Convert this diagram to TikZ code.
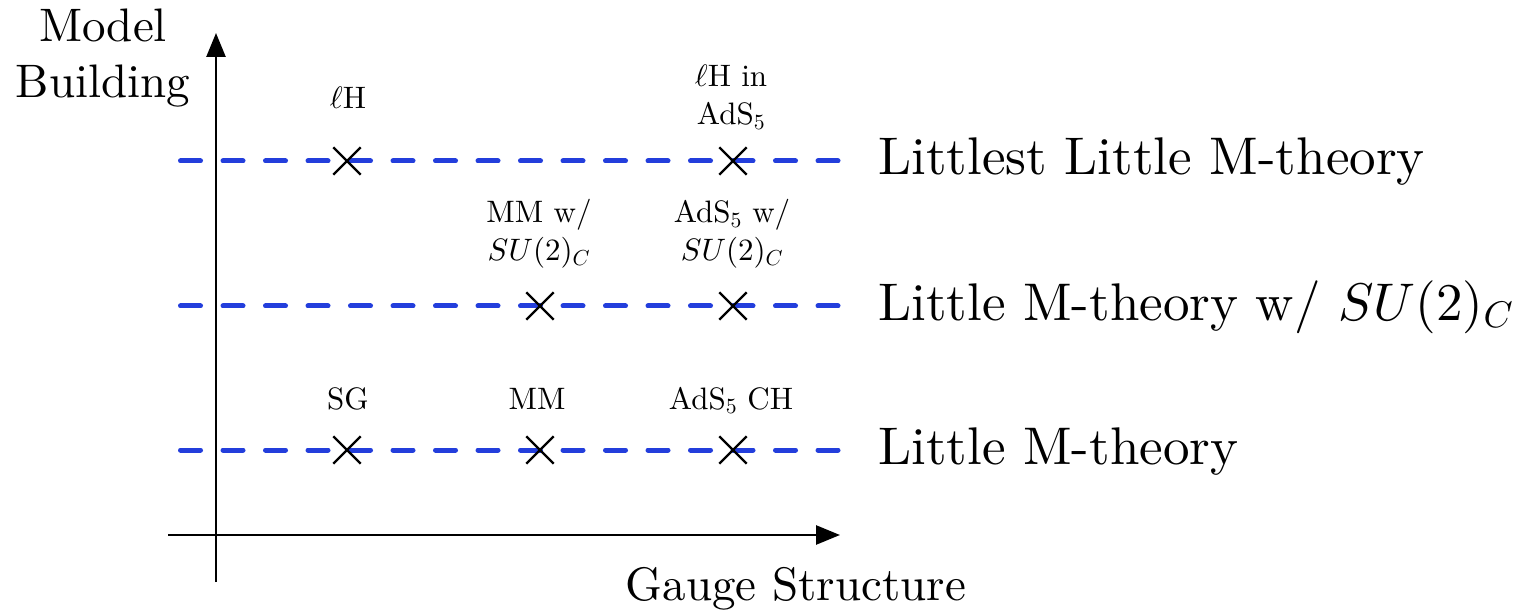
\documentclass[tikz,border=0pt]{standalone}
\usetikzlibrary{arrows.meta,shapes.misc}
% one design size of Latin Modern, scaled to every size used below
\DeclareFontShape{TU}{lmr}{m}{n}{<->"[lmroman10-regular]:+tlig;"}{}
\DeclareFontShape{OT1}{cmr}{m}{n}{<->cmr10}{}
\DeclareFontShape{OML}{cmm}{m}{it}{<->cmmi10}{}
\DeclareFontShape{OMS}{cmsy}{m}{n}{<->cmsy10}{}
\DeclareFontShape{OMX}{cmex}{m}{n}{<->cmex10}{}
\definecolor{lineblue}{RGB}{35,62,220}
\begin{document}
\begin{tikzpicture}[x=1pt,y=-1pt,
  axis/.style={line width=2.6pt,-{Triangle[length=24pt,width=19pt]}},
  level/.style={lineblue,line width=5pt,line cap=round,dash pattern=on 20pt off 22.5pt},
  model/.style={draw,cross out,line width=2.4pt,minimum size=25pt,inner sep=0pt},
  small/.style={font=\fontsize{31}{38}\selectfont,align=center,anchor=base,inner sep=0pt},
  theory/.style={font=\fontsize{53}{60}\selectfont,anchor=base west,inner sep=0pt},
  axislabel/.style={font=\fontsize{47}{56}\selectfont,align=center,anchor=base,inner sep=0pt}]
\useasboundingbox (0,0) rectangle (1523,612);

% axes
\coordinate (ybot) at (216,582);
\coordinate (ytop) at (216,33);
\coordinate (xleft) at (168,535);
\coordinate (xright) at (840,535);
\draw[axis] (ybot) -- (ytop);
\draw[axis] (xleft) -- (xright);
% multi-line nodes: the base anchor sits on the last line
\node[axislabel] (ylab) at (103,98) {Model\\Building};
\node[axislabel] (xlab) at (796,600) {Gauge Structure};

% theory levels
\coordinate (l1a) at (180.5,161);
\coordinate (l1b) at (843,161);
\coordinate (l2a) at (180.5,306);
\coordinate (l2b) at (843,306);
\coordinate (l3a) at (180.5,450);
\coordinate (l3b) at (843,450);
\draw[level] (l1a) -- (l1b);
\draw[level] (l2a) -- (l2b);
\draw[level] (l3a) -- (l3b);
\node[theory] (t1) at (878,175) {Littlest Little M-theory};
\node[theory] (t2) at (878,320) {Little M-theory w/ $SU(2)_C$};
\node[theory] (t3) at (878,464) {Little M-theory};

% models
\node[model] (lh) at (347,161) {};
\node[model] (lhads) at (733,161) {};
\node[model] (mmsu) at (540,306) {};
\node[model] (adssu) at (733,306) {};
\node[model] (sg) at (347,450) {};
\node[model] (mm) at (540,450) {};
\node[model] (adsch) at (733,450) {};

\node[small] (lhl) at (348,109) {$\ell$H};
\node[small] (lhadsl) at (731,125) {$\ell$H in\\AdS$_5$};
\node[small] (mmsul) at (539,261) {MM w/\\$SU(2)_C$};
\node[small] (adssul) at (732,261) {AdS$_5$ w/\\$SU(2)_C$};
\node[small] (sgl) at (348,409) {SG};
\node[small] (mml) at (537,409) {MM};
\node[small] (adschl) at (731,409) {AdS$_5$ CH};
\end{tikzpicture}
\end{document}
